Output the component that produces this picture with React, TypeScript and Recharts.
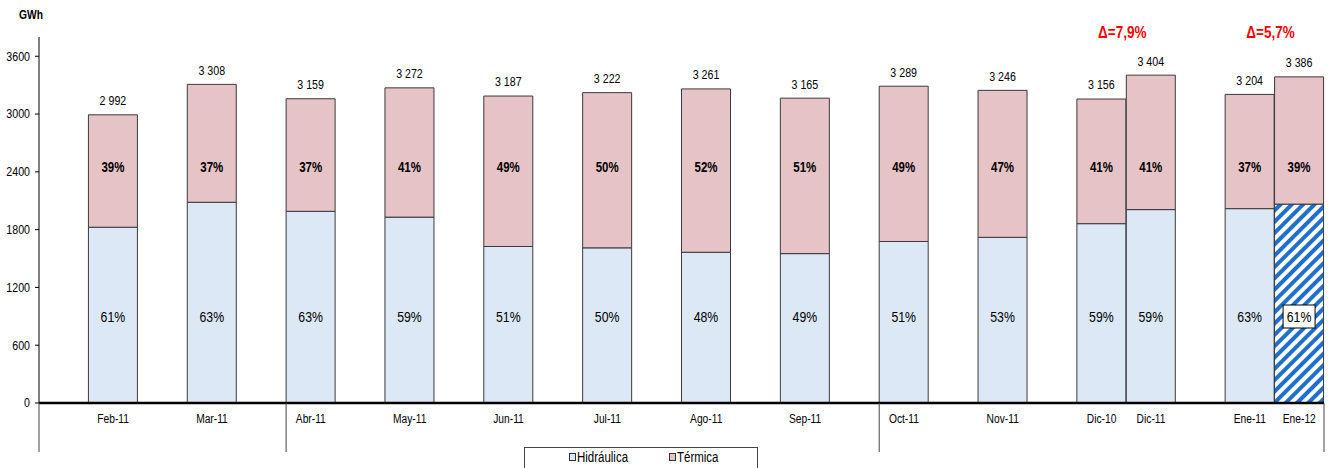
import React from 'react';
import { BarChart, Bar, XAxis, YAxis, Cell, LabelList } from 'recharts';

const months = ['Feb-11', 'Mar-11', 'Abr-11', 'May-11', 'Jun-11', 'Jul-11', 'Ago-11', 'Sep-11', 'Oct-11', 'Nov-11', 'Dic-10', 'Dic-11', 'Ene-11', 'Ene-12'];
const hidraulica = [1825, 2084, 1990, 1930, 1625, 1611, 1565, 1551, 1677, 1720, 1862, 2008, 2018, 2065];
const termica = [1167, 1224, 1169, 1342, 1562, 1611, 1696, 1614, 1612, 1526, 1294, 1396, 1186, 1321];
const yTicks = [0, 600, 1200, 1800, 2400, 3000, 3600];

// year-on-year pairs drawn side by side, with the growth shown above them
const comparePairs = [['Dic-10', 'Dic-11'], ['Ene-11', 'Ene-12']];
const sectionStarts = ['Abr-11', 'Oct-11'];
const currentMonth = 'Ene-12';

const W = 1334;
const H = 468;
const PLOT_LEFT = 39;
const PLOT_RIGHT = 10;
const PLOT_TOP = 37;
const PLOT_BOTTOM = 403;

const FONT = "'Liberation Sans', Arial, sans-serif";
const NARROW = 0.82; // Liberation Sans squeezed to an Arial Narrow look
const BLUE = '#dce8f6';
const PINK = '#e6c3c6';
const EDGE = '#3a3a3a';

const fmtThousands = (v: number) => `${Math.floor(v / 1000)} ${String(v % 1000).padStart(3, '0')}`;

type Row = {
  name: string;
  hidraulica?: number;
  termica?: number;
  total?: number;
  hPct?: string;
  hPctBoxed?: string;
  tPct?: string;
  delta?: string;
};

const secondOfPair = comparePairs.map(p => p[1]);

// spacer slot in front of every month except the second bar of a pair
const table: Row[] = [];
months.forEach((m, i) => {
  if (!secondOfPair.includes(m)) table.push({ name: '' });
  const total = hidraulica[i] + termica[i];
  const hp = `${Math.round((hidraulica[i] / total) * 100)}%`;
  const row: Row = {
    name: m,
    hidraulica: hidraulica[i],
    termica: termica[i],
    total,
    tPct: `${Math.round((termica[i] / total) * 100)}%`,
  };
  if (m === currentMonth) row.hPctBoxed = hp;
  else row.hPct = hp;
  const pair = comparePairs.find(p => p[1] === m);
  if (pair) {
    const j = months.indexOf(pair[0]);
    const prev = hidraulica[j] + termica[j];
    row.delta = `Δ=${(((total - prev) / prev) * 100).toFixed(1).replace('.', ',')}%`;
  }
  table.push(row);
});

const BAND = (W - PLOT_LEFT - PLOT_RIGHT) / table.length;

const box = (props: any) => {
  const vb = props.viewBox ?? {};
  return {
    x: props.x ?? vb.x,
    y: props.y ?? vb.y,
    width: props.width ?? vb.width,
    height: props.height ?? vb.height,
  };
};

type NTextProps = {
  x: number;
  y: number;
  size: number;
  bold?: boolean;
  anchor?: 'start' | 'middle' | 'end';
  fill?: string;
  children: React.ReactNode;
};

const NText = ({ x, y, size, bold, anchor = 'middle', fill = '#000', children }: NTextProps) => (
  <text
    transform={`translate(${x} ${y}) scale(${NARROW} 1)`}
    textAnchor={anchor}
    dominantBaseline="central"
    fontSize={size}
    fontWeight={bold ? 'bold' : 'normal'}
    fontFamily={FONT}
    fill={fill}
  >
    {children}
  </text>
);

const renderXTick = (props: any) => {
  const { x, payload, index } = props;
  const name = payload.value as string;
  const lines: number[] = [];
  if (index === 0 || sectionStarts.includes(name)) lines.push(x - BAND / 2);
  if (index === table.length - 1) lines.push(x + BAND / 2);
  return (
    <g>
      {lines.map(lx => (
        <line key={lx} x1={lx} x2={lx} y1={PLOT_BOTTOM} y2={452} stroke="#444" strokeWidth={1} />
      ))}
      {name && (
        <NText x={x} y={PLOT_BOTTOM + 16} size={12.5}>
          {name}
        </NText>
      )}
    </g>
  );
};

const renderYTick = (props: any) => {
  const { x, y, payload } = props;
  return (
    <NText x={x} y={y} size={13} anchor="end">
      {payload.value}
    </NText>
  );
};

const HydroPct = (props: any) => {
  if (props.value == null) return null;
  const { x, width } = box(props);
  return (
    <NText x={x + width / 2} y={317} size={15}>
      {props.value}
    </NText>
  );
};

// the current month's share sits in a white box over the hatched fill
const BoxedPct = (props: any) => {
  if (props.value == null) return null;
  const { x, width } = box(props);
  const cx = x + width / 2;
  return (
    <g>
      <rect x={cx - 16} y={305} width={32} height={23} fill="#fff" stroke="#000" strokeWidth={1} />
      <NText x={cx} y={317} size={15}>
        {props.value}
      </NText>
    </g>
  );
};

const ThermalPct = (props: any) => {
  if (props.value == null) return null;
  const { x, width } = box(props);
  return (
    <NText x={x + width / 2} y={167} size={14} bold>
      {props.value}
    </NText>
  );
};

const TotalLabel = (props: any) => {
  if (props.value == null) return null;
  const { x, y, width } = box(props);
  return (
    <NText x={x + width / 2} y={y - 14} size={13}>
      {fmtThousands(props.value)}
    </NText>
  );
};

const DeltaLabel = (props: any) => {
  if (!props.value) return null;
  const { x } = box(props);
  return (
    <NText x={x - 4} y={32} size={16.5} bold fill="#ff0000">
      {props.value}
    </NText>
  );
};

const LegendItem = ({ left, color, label }: { left: number; color: string; label: string }) => (
  <div style={{ position: 'absolute', left, top: 0, height: 18, display: 'flex', alignItems: 'center' }}>
    <span style={{ width: 5, height: 6, background: color, border: '1px solid #333', marginRight: 1 }} />
    <span
      style={{
        fontSize: 14,
        fontFamily: FONT,
        color: '#000',
        display: 'inline-block',
        transform: `scaleX(${NARROW})`,
        transformOrigin: 'left center',
      }}
    >
      {label}
    </span>
  </div>
);

export default function App() {
  return (
    <div style={{ position: 'absolute', left: 0, top: 0, width: W, height: H, background: '#fff', overflow: 'hidden' }}>
      <div
        style={{
          position: 'absolute',
          left: 19,
          top: 8,
          fontSize: 12.5,
          fontWeight: 'bold',
          fontFamily: FONT,
          color: '#000',
          transform: `scaleX(${NARROW})`,
          transformOrigin: 'left top',
        }}
      >
        GWh
      </div>
      <BarChart
        width={W}
        height={H}
        data={table}
        margin={{ top: PLOT_TOP, right: PLOT_RIGHT, bottom: H - PLOT_BOTTOM - 30, left: 0 }}
        barCategoryGap={0}
        barGap={0}
      >
        <defs>
          <pattern id="hatch" patternUnits="userSpaceOnUse" width={8} height={8} patternTransform="rotate(45)">
            <rect width={8} height={8} fill="#fff" />
            <rect width={4} height={8} fill="#1f70cc" />
          </pattern>
        </defs>
        <XAxis
          dataKey="name"
          interval={0}
          height={30}
          tickLine={false}
          axisLine={{ stroke: '#000', strokeWidth: 2.5 }}
          tick={renderXTick}
        />
        <YAxis
          width={PLOT_LEFT}
          domain={[0, 3800]}
          ticks={yTicks}
          interval={0}
          tickSize={4}
          tickMargin={5}
          axisLine={{ stroke: '#000', strokeWidth: 1 }}
          tickLine={{ stroke: '#000' }}
          tick={renderYTick}
        />
        <Bar dataKey="hidraulica" stackId="s" fill={BLUE} stroke={EDGE} strokeWidth={1} isAnimationActive={false}>
          {table.map((r, i) => (
            <Cell key={i} fill={r.name === currentMonth ? 'url(#hatch)' : BLUE} />
          ))}
          <LabelList dataKey="hPct" content={HydroPct} />
          <LabelList dataKey="hPctBoxed" content={BoxedPct} />
        </Bar>
        <Bar dataKey="termica" stackId="s" fill={PINK} stroke={EDGE} strokeWidth={1} isAnimationActive={false}>
          <LabelList dataKey="tPct" content={ThermalPct} />
          <LabelList dataKey="total" content={TotalLabel} />
          <LabelList dataKey="delta" content={DeltaLabel} />
        </Bar>
      </BarChart>
      <div style={{ position: 'absolute', left: 524, top: 447, width: 232, height: 30, border: '1px solid #444', background: '#fff' }}>
        <LegendItem left={44} color={BLUE} label="Hidráulica" />
        <LegendItem left={144} color={PINK} label="Térmica" />
      </div>
    </div>
  );
}
